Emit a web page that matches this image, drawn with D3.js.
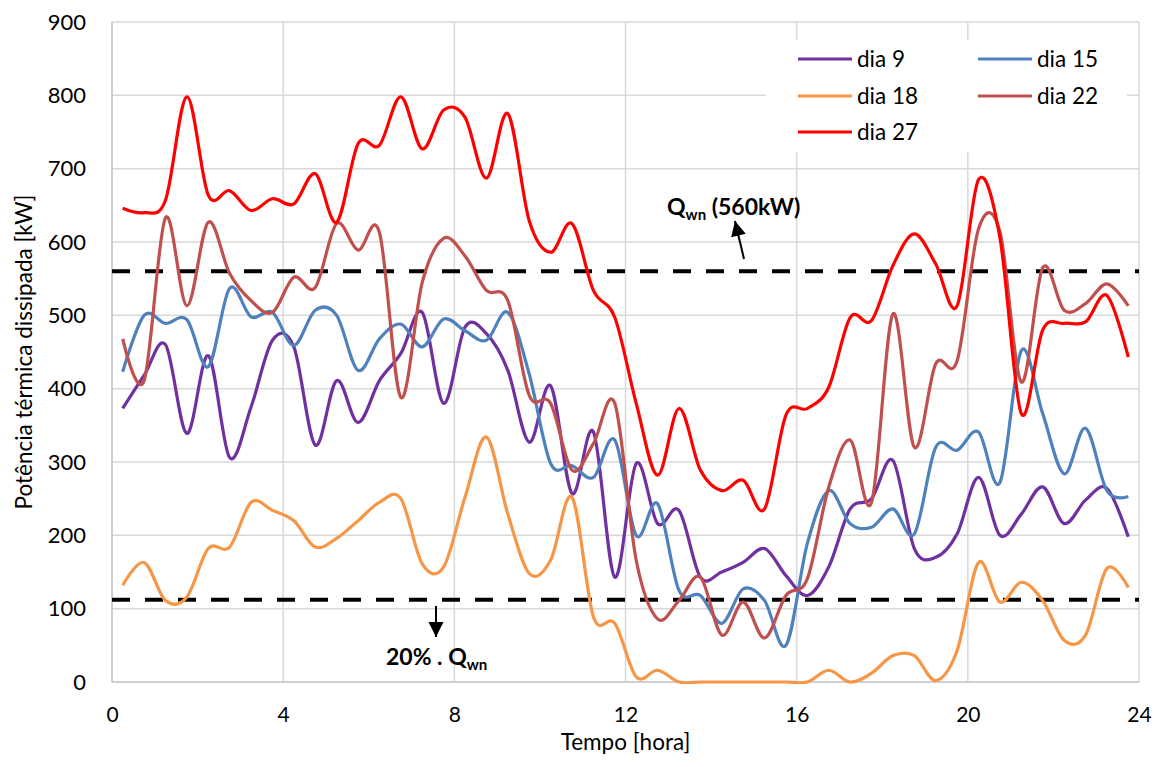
<!DOCTYPE html>
<html>
<head>
<meta charset="utf-8">
<script src="https://cdn.jsdelivr.net/npm/d3@7"></script>
<style>
  body { margin: 0; background: #fff; }
  text { font-family: Lato, "Open Sans", sans-serif; }
</style>
</head>
<body>
<div id="chart"></div>
<script>
// half-hour samples, hour 0.25 .. 23.75
const hours = d3.range(48).map(i => 0.25 + i * 0.5);

const dia9 = [373, 418, 460, 339, 445, 306, 375, 466, 457, 323, 411, 354, 411, 448, 504, 380,
  484, 475, 425, 327, 404, 257, 341, 143, 298, 216, 234, 143, 150, 163, 182, 145,
  118, 157, 236, 250, 302, 182, 170, 202, 279, 200, 229, 266, 216, 248, 264, 198];
const dia15 = [423, 500, 489, 494, 430, 537, 498, 504, 459, 507, 500, 425, 468, 488, 457, 495,
  479, 466, 504, 420, 298, 295, 279, 330, 200, 243, 125, 118, 80, 127, 111, 50,
  189, 261, 216, 211, 236, 202, 320, 316, 341, 272, 452, 366, 284, 346, 261, 253];
const dia18 = [132, 163, 111, 116, 182, 184, 245, 234, 220, 184, 196, 220, 245, 250, 161, 157,
  252, 334, 229, 148, 166, 252, 89, 80, 7, 16, 0, 0, 0, 0, 0, 0,
  0, 16, 0, 12, 36, 36, 2, 43, 163, 109, 136, 111, 57, 64, 155, 129];
const dia22 = [468, 411, 633, 513, 627, 557, 520, 504, 552, 538, 625, 589, 613, 388, 545, 605,
  581, 534, 520, 391, 380, 289, 325, 380, 166, 86, 111, 143, 64, 109, 60, 118,
  141, 266, 330, 245, 502, 320, 434, 438, 618, 614, 409, 565, 507, 516, 543, 513];
const dia27 = [646, 640, 657, 798, 664, 670, 643, 659, 652, 693, 627, 734, 732, 798, 727, 780,
  770, 687, 775, 629, 586, 625, 534, 497, 380, 282, 373, 289, 261, 275, 236, 364,
  373, 402, 497, 493, 568, 611, 570, 513, 685, 606, 366, 480, 489, 491, 527, 443];

const seriesNames = ['dia 9', 'dia 15', 'dia 18', 'dia 22', 'dia 27'];
const seriesValues = [dia9, dia15, dia18, dia22, dia27];
const seriesColors = ['#7030A0', '#4F81BD', '#F79646', '#C0504D', '#FF0000'];

const xTicks = [0, 4, 8, 12, 16, 20, 24];
const yTicks = [0, 100, 200, 300, 400, 500, 600, 700, 800, 900];
const qwn = 560;
const qwn20 = 112;

const width = 1160, height = 767;
const margin = { top: 22, right: 21, bottom: 85, left: 112 };

const svg = d3.select('#chart').append('svg')
  .attr('width', width)
  .attr('height', height);

const x = d3.scaleLinear().domain([0, 24]).range([margin.left, width - margin.right]);
const y = d3.scaleLinear().domain([0, 900]).range([height - margin.bottom, margin.top]);

// gridlines
svg.append('g')
  .selectAll('line.hgrid')
  .data(yTicks.slice(1))
  .join('line')
  .attr('x1', x(0)).attr('x2', x(24))
  .attr('y1', d => y(d)).attr('y2', d => y(d))
  .attr('stroke', '#D9D9D9').attr('stroke-width', 1.5);

svg.append('g')
  .selectAll('line.vgrid')
  .data(xTicks.slice(1))
  .join('line')
  .attr('x1', d => x(d)).attr('x2', d => x(d))
  .attr('y1', y(0)).attr('y2', y(900))
  .attr('stroke', '#D9D9D9').attr('stroke-width', 1.5);

// axes lines
svg.append('line')
  .attr('x1', x(0)).attr('x2', x(0)).attr('y1', y(0)).attr('y2', y(900))
  .attr('stroke', '#BFBFBF').attr('stroke-width', 1.5);
svg.append('line')
  .attr('x1', x(0)).attr('x2', x(24)).attr('y1', y(0)).attr('y2', y(0))
  .attr('stroke', '#BFBFBF').attr('stroke-width', 1.5);

// tick labels
const yAxis = d3.axisLeft(y).tickValues(yTicks).tickSize(0).tickPadding(26);
svg.append('g')
  .attr('transform', `translate(${x(0)},0)`)
  .call(yAxis)
  .call(g => g.select('.domain').remove())
  .selectAll('text')
  .style('font-size', '22px')
  .attr('fill', '#000');

const xAxis = d3.axisBottom(x).tickValues(xTicks).tickSize(0).tickPadding(25);
svg.append('g')
  .attr('transform', `translate(0,${y(0)})`)
  .call(xAxis)
  .call(g => g.select('.domain').remove())
  .selectAll('text')
  .style('font-size', '21px')
  .attr('fill', '#000');

// axis titles
svg.append('text')
  .attr('x', (x(0) + x(24)) / 2).attr('y', 750)
  .attr('text-anchor', 'middle')
  .style('font-size', '22.5px')
  .text('Tempo [hora]');

svg.append('text')
  .attr('transform', `translate(32,${(y(0) + y(900)) / 2}) rotate(-90)`)
  .attr('text-anchor', 'middle')
  .style('font-size', '22.5px')
  .text('Potência térmica dissipada [kW]');

// reference lines
svg.selectAll('line.ref')
  .data([qwn, qwn20])
  .join('line')
  .attr('x1', x(0)).attr('x2', x(24))
  .attr('y1', d => y(d)).attr('y2', d => y(d))
  .attr('stroke', '#000').attr('stroke-width', 4)
  .attr('stroke-dasharray', '18,15');

// series lines
const line = d3.line()
  .x((d, i) => x(hours[i]))
  .y(d => y(d))
  .curve(d3.curveCardinal.tension(0));

svg.append('clipPath').attr('id', 'plotclip')
  .append('rect')
  .attr('x', x(0)).attr('y', y(900))
  .attr('width', x(24) - x(0)).attr('height', y(0) - y(900) + 2);

svg.append('g')
  .attr('clip-path', 'url(#plotclip)')
  .selectAll('path.series')
  .data(seriesValues)
  .join('path')
  .attr('fill', 'none')
  .attr('stroke', (d, i) => seriesColors[i])
  .attr('stroke-width', 3.2)
  .attr('stroke-linejoin', 'round')
  .attr('d', d => line(d));

// annotation arrows: shaft + triangular head
function arrow(x1, y1, x2, y2) {
  const ang = Math.atan2(y2 - y1, x2 - x1) * 180 / Math.PI;
  svg.append('line')
    .attr('x1', x1).attr('y1', y1).attr('x2', x2).attr('y2', y2)
    .attr('stroke', '#000').attr('stroke-width', 2);
  svg.append('polygon')
    .attr('points', '0,0 -15,-7.5 -15,7.5')
    .attr('fill', '#000')
    .attr('transform', `translate(${x2},${y2}) rotate(${ang})`);
}
arrow(744, 259, 735, 221);
arrow(436, 606, 436, 637);

const t1 = svg.append('text')
  .attr('x', 667).attr('y', 215)
  .style('font-size', '23px').style('font-weight', 'bold');
t1.append('tspan').text('Q');
t1.append('tspan').attr('dy', 5).style('font-size', '15px').text('wn');
t1.append('tspan').attr('dy', -5).text(' (560kW)');

const t2 = svg.append('text')
  .attr('x', 386).attr('y', 665)
  .style('font-size', '23px').style('font-weight', 'bold');
t2.append('tspan').text('20% . Q');
t2.append('tspan').attr('dy', 5).style('font-size', '15px').text('wn');

// legend
const legend = svg.append('g');
legend.append('rect')
  .attr('x', 766).attr('y', 40).attr('width', 361).attr('height', 112)
  .attr('fill', '#fff');

const legendPos = [[798, 59], [978, 59], [798, 96], [978, 96], [798, 132]];
const items = legend.selectAll('g.item')
  .data(seriesNames)
  .join('g')
  .attr('transform', (d, i) => `translate(${legendPos[i][0]},${legendPos[i][1]})`);
items.append('line')
  .attr('x1', 0).attr('x2', 54).attr('y1', 0).attr('y2', 0)
  .attr('stroke', (d, i) => seriesColors[i]).attr('stroke-width', 3.2);
items.append('text')
  .attr('x', 59).attr('y', 8)
  .style('font-size', '22.5px')
  .text(d => d);
</script>
</body>
</html>
